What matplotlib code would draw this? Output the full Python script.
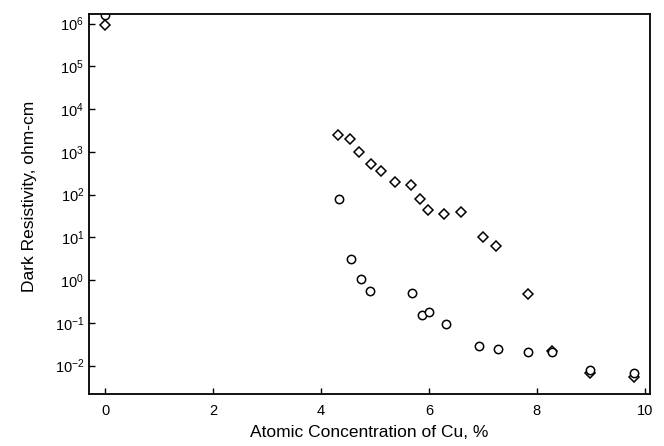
import matplotlib
matplotlib.use("Agg")
import matplotlib.pyplot as plt
from matplotlib.ticker import LogLocator, NullLocator, FixedLocator

plt.rcParams["font.family"] = ["Liberation Sans", "DejaVu Sans"]
plt.rcParams["mathtext.default"] = "regular"

# diamonds (upper series)
dia_x = [0.0, 4.31, 4.54, 4.70, 4.93, 5.11, 5.37, 5.67, 5.83, 5.98, 6.28, 6.59,
         7.0, 7.24, 7.83, 8.28, 8.98, 9.80]
dia_y = [9.5e5, 2500, 2050, 1000, 520, 360, 200, 170, 80, 44, 35, 40,
         10, 6.3, 0.48, 0.022, 0.0068, 0.0054]

# circles (lower series)
cir_x = [0.0, 4.33, 4.56, 4.74, 4.91, 5.69, 5.87, 6.0, 6.31, 6.93, 7.28, 7.83,
         8.28, 8.98, 9.80]
cir_y = [1.6e6, 80, 3.2, 1.07, 0.56, 0.50, 0.155, 0.18, 0.093, 0.029, 0.024, 0.021,
         0.021, 0.008, 0.0068]

fig = plt.figure(figsize=(6.64, 4.46), dpi=100)
ax = fig.add_axes([0.134, 0.117, 0.845, 0.852])

ax.plot(dia_x, dia_y, linestyle="none", marker="D", markersize=4.8,
        markerfacecolor="white", markeredgecolor="black", markeredgewidth=1.1)
ax.plot(cir_x, cir_y, linestyle="none", marker="o", markersize=6.0,
        markerfacecolor="white", markeredgecolor="black", markeredgewidth=1.1)

ax.set_yscale("log")
ax.set_xlim(-0.3, 10.1)
ax.set_ylim(10 ** -2.66, 10 ** 6.23)
ax.xaxis.set_major_locator(FixedLocator([0, 2, 4, 6, 8, 10]))
ax.yaxis.set_major_locator(LogLocator(base=10, numticks=20))
ax.yaxis.set_minor_locator(NullLocator())

ax.tick_params(direction="in", length=4, width=1, labelsize=10.5, colors="black")
ax.tick_params(axis="x", pad=7)
for s in ax.spines.values():
    s.set_linewidth(1.3)
    s.set_color("black")

ax.set_xlabel("Atomic Concentration of Cu, %", fontsize=12.5)
ax.set_ylabel("Dark Resistivity, ohm-cm", fontsize=12.5)
ax.xaxis.set_label_coords(0.5, -0.082)
ax.yaxis.set_label_coords(-0.092, 0.52)

fig.savefig("out.png", dpi=100)
